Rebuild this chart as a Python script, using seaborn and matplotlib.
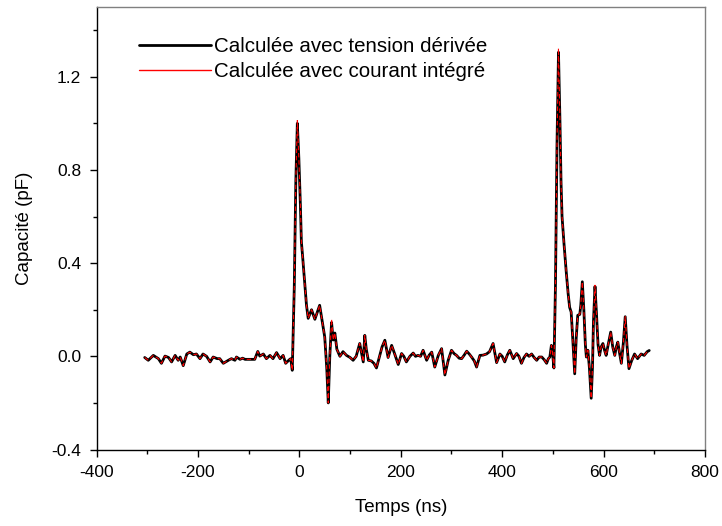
import matplotlib
matplotlib.use("Agg")
import matplotlib.pyplot as plt
import seaborn as sns
import pandas as pd
from matplotlib.ticker import MultipleLocator

# ---- data ----
temps_ns = [-305, -298, -288, -278, -272, -265, -258, -252, -245, -239, -235, -229,
            -222, -216, -209, -203, -196, -190, -183, -176, -170, -162, -157, -150,
            -140, -134, -127, -124, -117, -112, -107, -101, -94, -88, -82, -78, -71,
            -65, -58, -52, -45, -38, -32, -27, -20, -17, -14, -10, -7, -4, -1, 2, 4,
            6, 10, 14, 17.4, 24, 30.6, 40, 45, 50, 54, 57, 60, 63.5, 66.7, 70, 74, 80,
            86, 93, 100, 106, 112, 119, 126, 129, 132, 136, 142, 147, 152, 158, 163,
            168.6, 175, 182, 188, 195, 201.6, 206, 211, 218, 224.5, 229, 234, 239, 244,
            251, 256, 261, 267, 274, 280.5, 287, 293.5, 300, 305, 310, 315, 320, 325,
            330, 335, 339.6, 345, 349.5, 356, 362, 369, 375, 382, 389, 395.5, 400, 405,
            410, 415, 421.7, 428.4, 433, 438, 443, 448, 453, 458, 463, 468, 473, 478,
            483, 487.6, 491, 494, 497, 499, 502, 505, 508, 511, 514, 516, 518, 522, 526,
            530, 533, 536, 539, 543, 546, 549, 553, 555, 558, 561, 564, 566, 569, 572,
            575.5, 578, 580, 583, 586, 589, 592, 595, 598.6, 602, 605, 609, 614, 618,
            622, 625, 628, 631, 635, 639, 642.6, 646, 650, 655, 661, 667, 674, 680, 686,
            690]

cap_tension = [-0.005, -0.017, 0.004, -0.01, -0.03, 0.001, -0.005, -0.024, 0.004, -0.017,
               -0.003, -0.04, 0.01, 0.018, 0.007, 0.01, -0.01, 0.01, 0.0, -0.024, -0.003,
               -0.01, -0.01, -0.03, -0.017, -0.01, -0.017, -0.003, -0.013, -0.008, -0.013,
               -0.013, -0.013, -0.013, 0.021, 0.001, 0.01, -0.01, 0.004, -0.01, 0.016,
               -0.01, 0.004, -0.03, -0.015, -0.01, -0.06, 0.3, 0.75, 1.0, 0.85, 0.65, 0.49,
               0.44, 0.33, 0.22, 0.163, 0.20, 0.159, 0.219, 0.15, 0.083, -0.05, -0.20, 0.0,
               0.145, 0.07, 0.10, 0.03, 0.0, 0.02, 0.004, -0.005, -0.017, 0.0, 0.055,
               -0.024, 0.09, 0.03, -0.017, -0.02, -0.03, -0.05, 0.0, 0.04, 0.069, -0.005,
               0.047, 0.01, -0.035, 0.012, 0.0, -0.024, 0.0, 0.014, 0.0, 0.004, 0.0, 0.026,
               -0.017, 0.005, 0.018, -0.046, 0.004, 0.033, -0.08, -0.017, 0.026, 0.012,
               0.004, -0.008, -0.01, 0.005, 0.022, 0.01, -0.003, -0.02, -0.046, 0.004,
               0.005, 0.01, 0.02, 0.055, -0.027, 0.01, 0.0, -0.024, 0.005, 0.026, -0.01,
               0.012, 0.0, -0.03, -0.005, 0.01, 0.0, 0.01, -0.005, -0.017, -0.003, -0.003,
               -0.015, -0.03, -0.01, -0.003, 0.047, 0.02, -0.05, 0.3, 0.9, 1.305, 1.0, 0.75,
               0.60, 0.48, 0.37, 0.27, 0.21, 0.19, 0.08, -0.075, 0.08, 0.176, 0.18, 0.22,
               0.32, 0.2, 0.05, -0.003, 0.026, -0.05, -0.18, -0.05, 0.15, 0.30, 0.18, 0.05,
               0.004, 0.04, 0.055, 0.025, 0.004, 0.05, 0.104, 0.04, 0.004, 0.04, 0.061,
               0.02, -0.03, 0.06, 0.17, 0.05, -0.053, -0.02, 0.01, -0.01, 0.01, 0.004,
               0.02, 0.025]

# the integrated-current curve matches the derived-voltage one except at the peaks
courant_peaks = {-4: 1.012, 511: 1.322, 63.5: 0.16, 583: 0.305}
cap_courant = [courant_peaks.get(t, v) for t, v in zip(temps_ns, cap_tension)]

label_tension = "Calculée avec tension dérivée"
label_courant = "Calculée avec courant intégré"
x_ticks = [-400, -200, 0, 200, 400, 600, 800]
y_ticks = [-0.4, 0.0, 0.4, 0.8, 1.2]

df_t = pd.DataFrame({"t": temps_ns, "c": cap_tension})
df_c = pd.DataFrame({"t": temps_ns, "c": cap_courant})

sns.set_theme(style="white")
plt.rcParams["font.family"] = ["Liberation Sans", "DejaVu Sans"]
plt.rcParams["text.color"] = "black"
plt.rcParams["axes.labelcolor"] = "black"
plt.rcParams["xtick.color"] = "black"
plt.rcParams["ytick.color"] = "black"

fig = plt.figure(figsize=(7.22, 5.26), dpi=100)
ax = fig.add_axes([0.1337, 0.1454, 0.8428, 0.8416])

sns.lineplot(data=df_t, x="t", y="c", ax=ax, color="black", linewidth=2.0,
             label=label_tension, sort=False, estimator=None)
sns.lineplot(data=df_c, x="t", y="c", ax=ax, color="red", linewidth=0.8,
             dashes=False, label=label_courant, sort=False, estimator=None)
ax.lines[0].set_solid_joinstyle("round")
ax.lines[1].set_dashes((4, 2.5))

ax.set_xlim(-400, 800)
ax.set_ylim(-0.4, 1.5)
ax.set_xticks(x_ticks)
ax.set_yticks(y_ticks)
ax.set_xticklabels([str(v) for v in x_ticks])
ax.set_yticklabels([f"{v:.1f}" for v in y_ticks])
ax.xaxis.set_minor_locator(MultipleLocator(100))
ax.yaxis.set_minor_locator(MultipleLocator(0.2))
ax.tick_params(axis="both", which="major", direction="out", length=5, width=1,
               color="black", labelcolor="black", labelsize=12.5, pad=6)
ax.tick_params(axis="both", which="minor", direction="out", length=3, width=1,
               color="black")
ax.tick_params(top=False, right=False, bottom=True, left=True, which="both")

for side in ["left", "bottom"]:
    ax.spines[side].set_color("black")
    ax.spines[side].set_linewidth(1.0)
for side in ["top", "right"]:
    ax.spines[side].set_color("#808080")
    ax.spines[side].set_linewidth(1.0)

ax.set_xlabel("Temps (ns)", fontsize=13.5, labelpad=14, color="black")
ax.set_ylabel("Capacité (pF)", fontsize=13.5, labelpad=13, color="black")

leg = ax.legend(loc="upper left", bbox_to_anchor=(0.057, 0.95), frameon=False,
                fontsize=14.8, handlelength=3.5, handletextpad=0.15, labelspacing=0.3,
                borderaxespad=0)
for txt in leg.get_texts():
    txt.set_color("black")
leg.get_lines()[0].set_linewidth(2.0)
leg.get_lines()[1].set_linewidth(1.0)
leg.get_lines()[1].set_color("red")
leg.get_lines()[1].set_linestyle("-")

fig.savefig("out.png", dpi=100)
